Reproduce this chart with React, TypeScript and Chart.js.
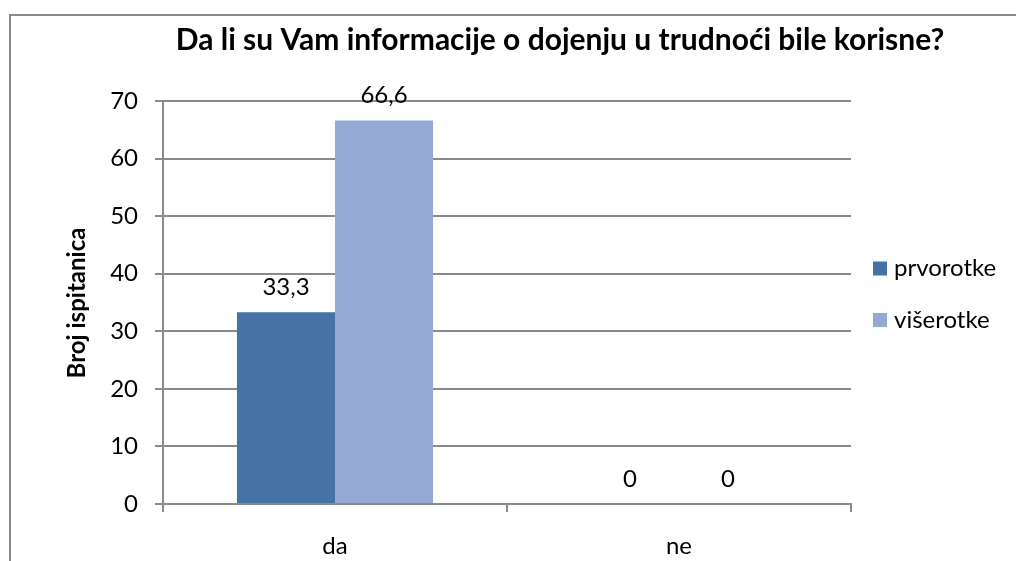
import React, { useEffect, useRef } from 'react';
import { Chart, registerables } from 'chart.js';

Chart.register(...registerables);

const titleText = 'Da li su Vam informacije o dojenju u trudnoći bile korisne?';
const yAxisTitle = 'Broj ispitanica';
const categories = ['da', 'ne'];
const seriesNames = ['prvorotke', 'višerotke'];
const prvorotke = [33.3, 0];
const viserotke = [66.6, 0];
const seriesColors = ['#4572A7', '#95AAD3'];
const yMin = 0;
const yMax = 70;
const yStep = 10;

const W = 1016;
const H = 561;
const FONT = 'Lato, "Noto Sans", sans-serif';
const GRID = '#8a8a8a';
const TXT = 24;

const fmt = (v: number) => String(v).replace('.', ',');

const decorPlugin = {
  id: 'decor',
  beforeDraw(chart: any) {
    const ctx = chart.ctx;
    ctx.save();
    ctx.fillStyle = '#ffffff';
    ctx.fillRect(0, 0, W, H);
    ctx.strokeStyle = GRID;
    ctx.lineWidth = 2;
    ctx.beginPath();
    ctx.moveTo(10, H);
    ctx.lineTo(10, 15);
    ctx.lineTo(W, 15);
    ctx.stroke();
    ctx.fillStyle = '#000';
    ctx.font = `bold 30px ${FONT}`;
    ctx.textAlign = 'center';
    ctx.textBaseline = 'alphabetic';
    ctx.fillText(titleText, 560, 50);
    ctx.translate(85, 303);
    ctx.rotate(-Math.PI / 2);
    ctx.font = `bold 24px ${FONT}`;
    ctx.textAlign = 'center';
    ctx.fillText(yAxisTitle, 0, 0);
    ctx.restore();
  },
  afterDatasetsDraw(chart: any) {
    const ctx = chart.ctx;
    ctx.save();
    ctx.fillStyle = '#000';
    ctx.font = `${TXT}px ${FONT}`;
    ctx.textAlign = 'center';
    ctx.textBaseline = 'middle';
    chart.data.datasets.forEach((ds: any, i: number) => {
      const meta = chart.getDatasetMeta(i);
      meta.data.forEach((bar: any, j: number) => {
        ctx.fillText(fmt(ds.data[j]), bar.x, bar.y - 25);
      });
    });
    const legendY = [268.5, 320];
    ctx.textAlign = 'left';
    chart.data.datasets.forEach((ds: any, i: number) => {
      ctx.fillStyle = ds.backgroundColor;
      ctx.fillRect(873, legendY[i] - 7, 14, 14);
      ctx.fillStyle = '#000';
      ctx.fillText(ds.label, 894, legendY[i]);
    });
    ctx.restore();
  },
};

export default function App() {
  const ref = useRef<HTMLCanvasElement>(null);
  useEffect(() => {
    if (!ref.current) return;
    const chart = new Chart(ref.current, {
      type: 'bar',
      data: {
        labels: categories,
        datasets: [
          { label: seriesNames[0], data: prvorotke, backgroundColor: seriesColors[0], borderWidth: 0, categoryPercentage: 0.57, barPercentage: 1 },
          { label: seriesNames[1], data: viserotke, backgroundColor: seriesColors[1], borderWidth: 0, categoryPercentage: 0.57, barPercentage: 1 },
        ],
      },
      options: {
        responsive: false,
        animation: false,
        layout: { padding: { left: 0, right: 165, top: 101, bottom: 0 } },
        plugins: { legend: { display: false }, tooltip: { enabled: false }, title: { display: false } },
        scales: {
          x: {
            type: 'category',
            grid: { display: true, drawOnChartArea: false, drawTicks: true, tickLength: 8, color: GRID, lineWidth: 2, offset: true },
            border: { display: true, color: GRID, width: 2 },
            ticks: { color: '#000', font: { family: FONT, size: TXT }, padding: 20 },
            afterFit: (s: any) => { s.height = 57; },
          },
          y: {
            min: yMin,
            max: yMax,
            grid: { color: GRID, lineWidth: 2, tickLength: 8 },
            border: { display: true, color: GRID, width: 2 },
            ticks: { stepSize: yStep, color: '#000', font: { family: FONT, size: TXT }, padding: 17 },
            afterFit: (s: any) => { s.width = 163; },
          },
        },
      },
      plugins: [decorPlugin],
    });
    return () => chart.destroy();
  }, []);
  return (
    <div style={{ position: 'fixed', left: 0, top: 0, width: W, height: H }}>
      <canvas ref={ref} width={W} height={H} />
    </div>
  );
}
